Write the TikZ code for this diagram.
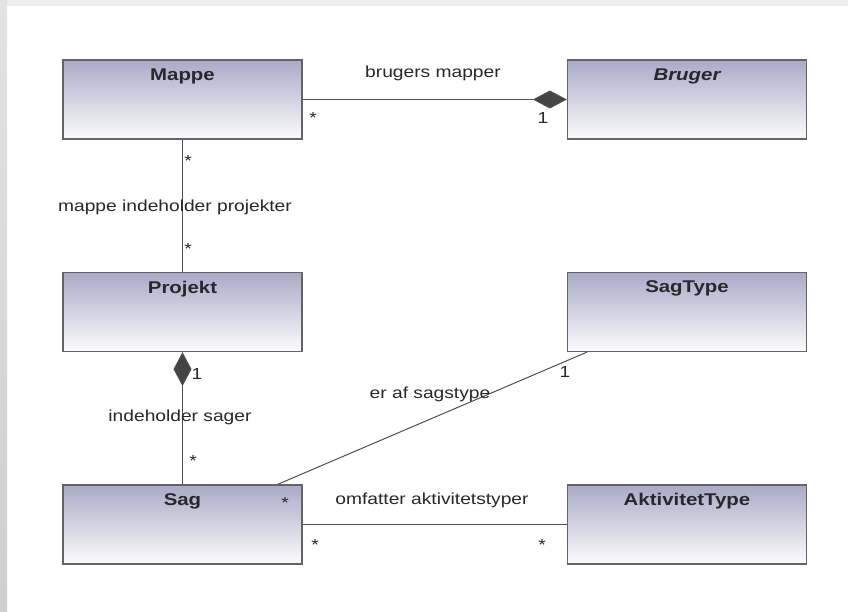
\documentclass[tikz,border=0pt]{standalone}
\usepackage{fontspec}
\setmainfont{Liberation Sans}[FakeStretch=1.2]
\usetikzlibrary{arrows.meta}

\definecolor{boxtop}{RGB}{170,170,200}
\definecolor{boxline}{RGB}{100,100,104}
\definecolor{linkgray}{RGB}{80,80,80}
\definecolor{txt}{RGB}{40,40,44}

\tikzset{
  klasse/.style={draw=boxline, line width=1.3pt, top color=boxtop, bottom color=white!96!boxtop,
    minimum width=239pt, minimum height=79pt, inner sep=0pt},
  titel/.style={font=\fontsize{17}{18}\selectfont\bfseries, text=txt, inner sep=0pt, anchor=north},
  rolle/.style={font=\fontsize{16}{18}\selectfont, text=txt, inner sep=0pt},
  link/.style={linkgray, line width=1pt},
  komp/.style={-{Diamond[length=34pt,width=18pt,fill=linkgray!85!black]}}
}

\begin{document}
\begin{tikzpicture}[x=1pt,y=-1pt]

\useasboundingbox (0,0) rectangle (848,611);
\fill[white] (0,0) rectangle (848,611);
\fill[gray!14] (0,0) rectangle (848,6);
\shade[top color=gray!22, bottom color=gray!38] (0,0) rectangle (7,611);

% klasser
\node[klasse] (mappe) at (182.5,99.5) {};
\node[klasse] (bruger) at (687,99.5) {};
\node[klasse] (projekt) at (182.5,312) {};
\node[klasse] (sagtype) at (687,312) {};
\node[klasse] (sag) at (182.5,524.5) {};
\node[klasse] (aktivitettype) at (687,524.5) {};

\node[titel] (mappeT) at ([yshift=-9pt]mappe.north) {Mappe};
\node[titel] (brugerT) at ([yshift=-9pt]bruger.north) {\itshape Bruger};
\node[titel] (projektT) at ([yshift=-9pt]projekt.north) {Projekt};
\node[titel] (sagtypeT) at ([yshift=-9pt]sagtype.north) {SagType};
\node[titel] (sagT) at ([yshift=-9pt]sag.north) {Sag};
\node[titel] (aktivitettypeT) at ([yshift=-9pt]aktivitettype.north) {AktivitetType};

% forbindelser
\draw[link, komp] (mappe.east) -- (bruger.west);
\draw[link] (mappe.south) -- (projekt.north);
\draw[link, komp] (sag.north) -- (projekt.south);
\draw[link] ([xshift=-25pt]sag.north east) -- ([xshift=20pt]sagtype.south west);
\draw[link] (sag.east) -- (aktivitettype.west);

% roller og navne
\node[rolle] (l1) at (433,73) {brugers mapper};
\node[rolle] (m1) at (313,118) {*};
\node[rolle] (m2) at (543,118) {1};

\node[rolle] (l2) at (175,207) {mappe indeholder projekter};
\node[rolle] (m3) at (188,161) {*};
\node[rolle] (m4) at (188,249) {*};

\node[rolle] (l3) at (180,417) {indeholder sager};
\node[rolle] (m5) at (197,374) {1};
\node[rolle] (m6) at (193,461) {*};

\node[rolle] (l4) at (430,394) {er af sagstype};
\node[rolle] (m7) at (565,372) {1};
\node[rolle] (m8) at (285,503) {*};

\node[rolle] (l5) at (432,500) {omfatter aktivitetstyper};
\node[rolle] (m9) at (315,545) {*};
\node[rolle] (m10) at (542,545) {*};

\end{tikzpicture}
\end{document}
